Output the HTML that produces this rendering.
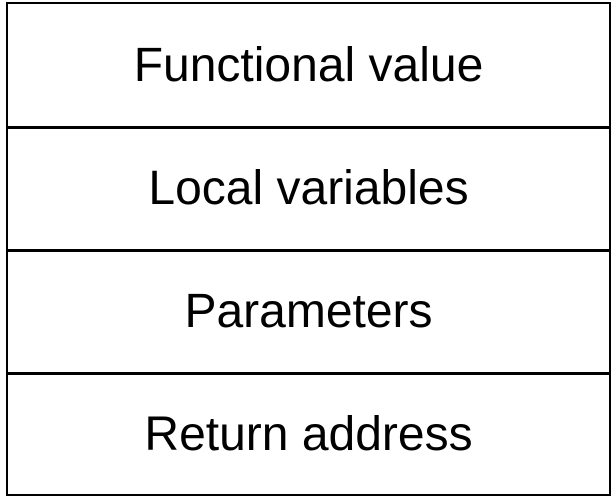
<!DOCTYPE html>
<html><head><style>
html,body{margin:0;padding:0;background:#fff;width:614px;height:498px;overflow:hidden}
.box{position:absolute;left:6px;top:2px;width:601px;height:490px;border:2.5px solid #000}
.row{position:absolute;left:0;width:601px;height:122px;display:flex;align-items:center;justify-content:center;font-family:"Liberation Sans",sans-serif;font-size:48px;color:#000}
.line{position:absolute;left:0;width:601px;height:2.5px;background:#000}
</style></head><body>
<div class="box">
<div class="row" style="top:0">Functional value</div>
<div class="line" style="top:122px"></div>
<div class="row" style="top:123px">Local variables</div>
<div class="line" style="top:245px"></div>
<div class="row" style="top:246px">Parameters</div>
<div class="line" style="top:368px"></div>
<div class="row" style="top:369px">Return address</div>
</div>
</body></html>
